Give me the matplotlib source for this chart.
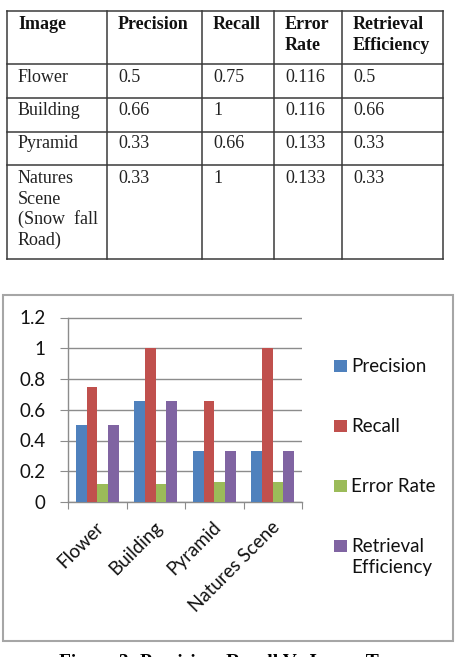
import matplotlib
matplotlib.use("Agg")
import matplotlib.pyplot as plt
from matplotlib.lines import Line2D
from matplotlib.patches import Rectangle
from matplotlib.transforms import ScaledTranslation
import numpy as np

# ---------------- data ----------------
categories = ["Flower", "Building", "Pyramid", "Natures Scene"]
table_images = ["Flower", "Building", "Pyramid", "Natures\nScene\n(Snow  fall\nRoad)"]
precision = [0.5, 0.66, 0.33, 0.33]
recall = [0.75, 1, 0.66, 1]
error_rate = [0.116, 0.116, 0.133, 0.133]
retrieval = [0.5, 0.66, 0.33, 0.33]
series_names = ["Precision", "Recall", "Error Rate", "Retrieval\nEfficiency"]
table_headers = ["Image", "Precision", "Recall", "Error\nRate", "Retrieval\nEfficiency"]
y_ticks = [0, 0.2, 0.4, 0.6, 0.8, 1, 1.2]
y_tick_labels = ["0", "0.2", "0.4", "0.6", "0.8", "1", "1.2"]
caption = "Figure 3: Precision, Recall Vs Image Type"

colors = ["#4F81BD", "#C0504D", "#9BBB59", "#8064A2"]

W, H = 455, 657
fig = plt.figure(figsize=(W / 100, H / 100), dpi=100)
fig.patch.set_facecolor("white")


def fx(x):
    return x / W


def fy(y):
    return 1 - y / H


def hline(x0, x1, y, color="#3a3a3a", lw=1.1):
    fig.add_artist(Line2D([fx(x0), fx(x1)], [fy(y), fy(y)], color=color, lw=lw,
                          transform=fig.transFigure))


def vline(x, y0, y1, color="#3a3a3a", lw=1.1):
    fig.add_artist(Line2D([fx(x), fx(x)], [fy(y0), fy(y1)], color=color, lw=lw,
                          transform=fig.transFigure))


def lines_text(x, y_base, s, step, **kw):
    for i, line in enumerate(s.split("\n")):
        fig.text(fx(x), fy(y_base + i * step), line, ha="left", va="baseline", **kw)


# ---------------- table ----------------
col_x = [7, 107, 202, 274, 342, 443]
row_y = [11, 64, 98, 132, 165, 259]
for x in col_x:
    vline(x, row_y[0], row_y[-1])
for y in row_y:
    hline(col_x[0], col_x[-1], y)

serif = "Liberation Serif"
tsize = 13
for j, h in enumerate(table_headers):
    lines_text(col_x[j] + 11, 29, h, 21, fontfamily=serif, fontweight="bold",
               fontsize=tsize, color="#111111")

rows = []
for i in range(len(table_images)):
    rows.append([table_images[i], f"{precision[i]:g}", f"{recall[i]:g}",
                 f"{error_rate[i]:g}", f"{retrieval[i]:g}"])
row_base = [82, 115, 148, 183]
for i, row in enumerate(rows):
    for j, val in enumerate(row):
        lines_text(col_x[j] + 11, row_base[i], val, 20.7, fontfamily=serif,
                   fontsize=tsize, color="#222222")

# ---------------- chart border ----------------
fig.add_artist(Rectangle((fx(3), fy(641)), fx(450), 346 / H, fill=False,
                         edgecolor="#a6a6a6", lw=1.5, transform=fig.transFigure))

# ---------------- bar chart ----------------
ax = fig.add_axes([fx(68), fy(502), fx(302 - 68), (502 - 317.5) / H])
n = len(categories)
x = np.arange(n)
bw = 1 / 5.5
all_series = [precision, recall, error_rate, retrieval]
for k, (vals, c) in enumerate(zip(all_series, colors)):
    ax.bar(x + (k - 1.5) * bw, vals, width=bw, color=c, edgecolor="none", zorder=3)

ax.set_xlim(-0.5, n - 0.5)
ax.set_ylim(0, 1.2)
ax.set_yticks(y_ticks)
ax.set_yticklabels(y_tick_labels)
ax.yaxis.grid(True, color="#8c8c8c", lw=1.0, zorder=0)
ax.set_axisbelow(True)
for s in ["top", "right"]:
    ax.spines[s].set_visible(False)
for s in ["left", "bottom"]:
    ax.spines[s].set_color("#8c8c8c")
    ax.spines[s].set_linewidth(1.0)

sans = "Lato"
csize = 13.5
ax.set_xticks(np.arange(-0.5, n, 1.0))
ax.set_xticklabels([""] * (n + 1))
ax.set_xticks(x, minor=True)
ax.set_xticklabels(categories, minor=True, rotation=45, ha="right", va="center",
                   rotation_mode="anchor", fontfamily=sans, fontsize=csize,
                   color="#111111")
ax.tick_params(axis="x", which="major", length=5, color="#8c8c8c", direction="out")
ax.tick_params(axis="x", which="minor", length=0, pad=16)
ax.tick_params(axis="y", length=6, color="#8c8c8c", direction="out", pad=10,
               labelsize=csize, labelcolor="#111111")
for lab in ax.get_yticklabels():
    lab.set_fontfamily(sans)
shift = ScaledTranslation(4 / 100, 0, fig.dpi_scale_trans)
for lab in ax.get_xticklabels(minor=True):
    lab.set_transform(lab.get_transform() + shift)

# ---------------- legend (Excel style: marker aligned with first line) ----------------
for k, (name, c) in enumerate(zip(series_names, colors)):
    cy = 366 + 60 * k
    fig.add_artist(Rectangle((fx(334), fy(cy + 6)), fx(12.5), 12 / H, facecolor=c,
                             edgecolor="none", transform=fig.transFigure))
    lines_text(351, cy + 6, name, 21.5, fontfamily=sans, fontsize=csize,
               color="#111111")

# ---------------- caption (cropped at bottom edge as in the source) ----------------
fig.text(fx(233), fy(667), caption, fontfamily=serif, fontweight="bold", fontsize=14,
         ha="center", va="baseline")

fig.savefig("out.png", dpi=100, facecolor="white")
